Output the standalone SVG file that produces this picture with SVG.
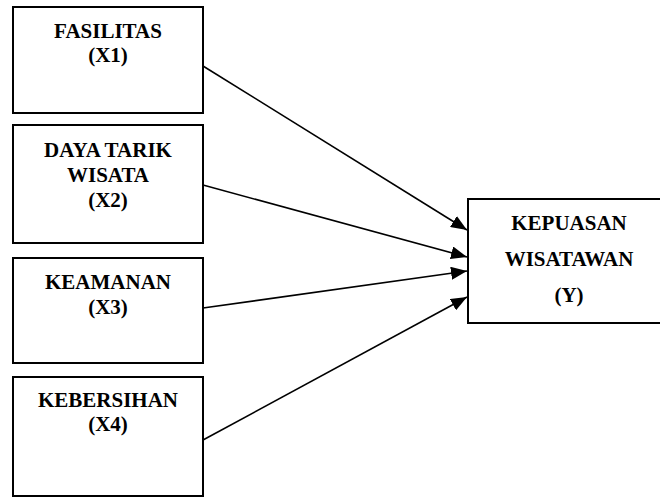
<svg xmlns="http://www.w3.org/2000/svg" width="660" height="497" viewBox="0 0 660 497">
<style>
.box{fill:#fff;stroke:#000;stroke-width:2}
.t{font-family:"Liberation Serif","Times New Roman",serif;font-weight:bold;font-size:21px;fill:#000;text-anchor:middle}
.c{stroke:#000;stroke-width:1.6;fill:none}
</style>
<defs>
<marker id="ah" markerUnits="userSpaceOnUse" markerWidth="17" markerHeight="13" refX="16" refY="6.5" orient="auto">
<path d="M0,0 L16,6.5 L0,13 z" fill="#000"/>
</marker>
</defs>
<rect width="660" height="497" fill="#fff"/>
<g id="x1">
<rect class="box" x="13" y="7" width="190" height="106"/>
<text class="t" x="108" y="38">FASILITAS</text>
<text class="t" x="108" y="62">(X1)</text>
</g>
<g id="x2">
<rect class="box" x="13" y="125" width="190" height="118"/>
<text class="t" x="108" y="157">DAYA TARIK</text>
<text class="t" x="108" y="182">WISATA</text>
<text class="t" x="108" y="207">(X2)</text>
</g>
<g id="x3">
<rect class="box" x="13" y="258" width="190" height="105"/>
<text class="t" x="108" y="289">KEAMANAN</text>
<text class="t" x="108" y="314">(X3)</text>
</g>
<g id="x4">
<rect class="box" x="13" y="377" width="190" height="119"/>
<text class="t" x="108" y="407">KEBERSIHAN</text>
<text class="t" x="108" y="431">(X4)</text>
</g>
<g id="y">
<rect class="box" x="468" y="199" width="202" height="124"/>
<text class="t" x="569" y="230">KEPUASAN</text>
<text class="t" x="569" y="266">WISATAWAN</text>
<text class="t" x="569" y="302">(Y)</text>
</g>
<g id="connectors">
<line class="c" x1="203" y1="66" x2="467" y2="230" marker-end="url(#ah)"/>
<line class="c" x1="203" y1="185" x2="467" y2="257" marker-end="url(#ah)"/>
<line class="c" x1="203" y1="308" x2="467" y2="271" marker-end="url(#ah)"/>
<line class="c" x1="203" y1="440" x2="467" y2="297" marker-end="url(#ah)"/>
</g>
</svg>
